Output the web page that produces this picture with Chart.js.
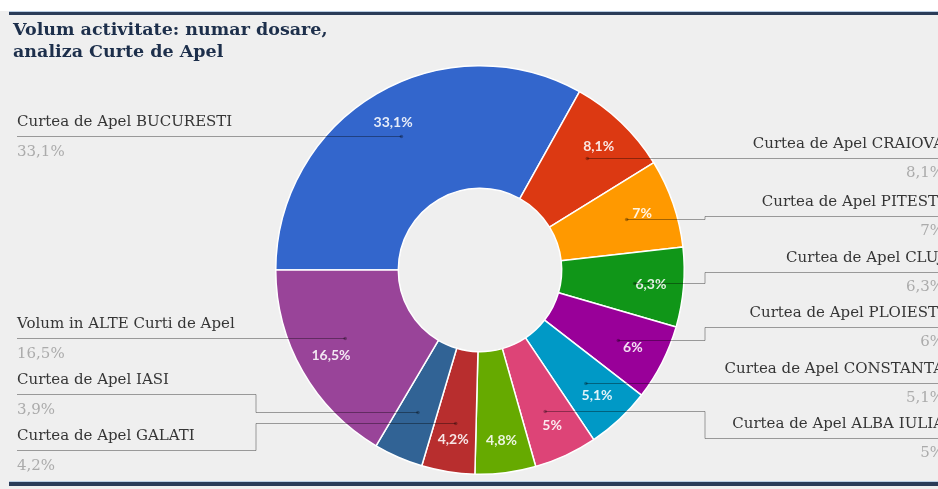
<!DOCTYPE html>
<html>
<head>
<meta charset="utf-8">
<script src="https://cdn.jsdelivr.net/npm/chart.js@4"></script>
<style>
  html, body { margin: 0; padding: 0; background: #efefef; }
  .wrap { width: 938px; height: 489px; position: relative; }
</style>
</head>
<body>
<div class="wrap"><canvas id="curti-chart"></canvas></div>
<script>
// date din grafic
const titleLines = ['Volum activitate: numar dosare,', 'analiza Curte de Apel'];
const curti = [
    'Curtea de Apel BUCURESTI',
    'Curtea de Apel CRAIOVA',
    'Curtea de Apel PITESTI',
    'Curtea de Apel CLUJ',
    'Curtea de Apel PLOIESTI',
    'Curtea de Apel CONSTANTA',
    'Curtea de Apel ALBA IULIA',
    null, // eticheta nu se vede in imagine
    'Curtea de Apel GALATI',
    'Curtea de Apel IASI',
    'Volum in ALTE Curti de Apel'
];
const procente = [33.1, 8.1, 7, 6.3, 6, 5.1, 5, 4.8, 4.2, 3.9, 16.5];
const culori = ['#3366cc', '#dc3912', '#ff9900', '#109618', '#990099', '#0099c6',
                '#dd4477', '#66aa00', '#b82e2e', '#316395', '#994499'];

const fmt = v => String(v).replace('.', ',') + '%';

// fundal, linii sus/jos, titlu
const fundal = {
    id: 'fundal',
    beforeDraw(chart) {
        const c = chart.ctx, w = chart.width, h = chart.height;
        c.save();
        c.fillStyle = '#efefef';
        c.fillRect(0, 0, w, h);
        c.fillStyle = '#ffffff';
        c.fillRect(0, 0, w, 11);
        c.fillStyle = '#b9cde3';
        c.fillRect(9, 11, w, 1);
        c.fillRect(9, 481, w, 1);
        c.fillStyle = '#2a3c58';
        c.fillRect(9, 12, w, 3);
        c.fillRect(9, 482, w, 4);
        c.fillStyle = '#1d2f4b';
        c.font = 'bold 17.5px "DejaVu Serif"';
        c.textBaseline = 'alphabetic';
        c.fillText(titleLines[0], 13, 35);
        c.fillText(titleLines[1], 13, 57);
        c.restore();
    }
};

// pune etichetele pe o parte fara suprapuneri
function aseaza(items, gap) {
    items.sort((a, b) => a.dy - b.dy);
    let grupuri = items.map(it => ({ list: [it] }));
    const pozitii = g => {
        const m = g.list.reduce((s, it) => s + it.dy, 0) / g.list.length;
        g.list.forEach((it, i) => { it.ly = m + (i - (g.list.length - 1) / 2) * gap; });
    };
    let schimbat = true;
    while (schimbat) {
        schimbat = false;
        grupuri.forEach(pozitii);
        for (let i = 0; i < grupuri.length - 1; i++) {
            const a = grupuri[i], b = grupuri[i + 1];
            if (a.list[a.list.length - 1].ly + gap > b.list[0].ly) {
                a.list = a.list.concat(b.list);
                grupuri.splice(i + 1, 1);
                schimbat = true;
                break;
            }
        }
    }
    grupuri.forEach(pozitii);
}

const etichete = {
    id: 'etichete',
    afterDatasetsDraw(chart) {
        const c = chart.ctx;
        const arcs = chart.getDatasetMeta(0).data;
        const stanga = [], dreapta = [];

        c.save();
        arcs.forEach((arc, i) => {
            const p = arc.getProps(['x', 'y', 'startAngle', 'endAngle', 'outerRadius', 'innerRadius']);
            const a = (p.startAngle + p.endAngle) / 2;
            // procent in felie (feliile prea mici raman fara text)
            if (procente[i] >= 4) {
                const rt = p.outerRadius * 0.84;
                c.font = 'bold 14px Lato';
                c.fillStyle = 'rgba(255,255,255,0.88)';
                c.textAlign = 'center';
                c.textBaseline = 'middle';
                c.fillText(fmt(procente[i]), p.x + Math.cos(a) * rt, p.y + Math.sin(a) * rt);
            }

            if (!curti[i]) return;
            const rd = p.outerRadius * 0.76;
            const it = { i, dx: p.x + Math.cos(a) * rd, dy: p.y + Math.sin(a) * rd };
            (Math.cos(a) >= 0 ? dreapta : stanga).push(it);
        });

        aseaza(stanga, 56);
        aseaza(dreapta, 55.5);

        c.lineWidth = 1;
        c.strokeStyle = 'rgba(0,0,0,0.36)';
        const linie = (pts) => {
            c.beginPath();
            pts.forEach((pt, k) => k ? c.lineTo(pt[0], pt[1] + 0.5) : c.moveTo(pt[0], pt[1] + 0.5));
            c.stroke();
        };
        const punct = (x, y) => {
            c.fillStyle = 'rgba(0,0,0,0.3)';
            c.beginPath();
            c.arc(x, y + 0.5, 1.8, 0, Math.PI * 2);
            c.fill();
        };

        stanga.forEach(it => {
            const ly = Math.round(it.ly), dy = Math.round(it.dy);
            if (Math.abs(ly - dy) < 14) {
                linie([[it.dx, ly], [17, ly]]);
                punct(it.dx, ly);
            } else {
                linie([[it.dx, dy], [256, dy], [256, ly], [17, ly]]);
                punct(it.dx, dy);
            }
            c.textAlign = 'left';
            c.textBaseline = 'middle';
            c.font = '15px "DejaVu Serif"';
            c.fillStyle = '#353535';
            c.fillText(curti[it.i], 17, ly - 14);
            c.fillStyle = '#ababab';
            c.fillText(fmt(procente[it.i]), 17, ly + 16);
        });

        dreapta.forEach(it => {
            const ly = Math.round(it.ly), dy = Math.round(it.dy);
            linie([[it.dx, dy], [705, dy], [705, ly], [chart.width, ly]]);
            punct(it.dx, dy);
            c.textAlign = 'right';
            c.textBaseline = 'middle';
            c.font = '15px "DejaVu Serif"';
            c.fillStyle = '#353535';
            c.fillText(curti[it.i], 944, ly - 14);
            c.fillStyle = '#ababab';
            c.fillText(fmt(procente[it.i]), 944, ly + 15);
        });
        c.restore();
    }
};

const ctx = document.getElementById('curti-chart').getContext('2d');
const curtiChart = new Chart(ctx, {
    type: 'doughnut',
    data: {
        labels: curti.map(n => n || ''),
        datasets: [{
            data: procente,
            backgroundColor: culori,
            borderColor: '#ffffff',
            borderWidth: 1.5
        }]
    },
    options: {
        responsive: true,
        maintainAspectRatio: false,
        animation: false,
        rotation: -90,
        cutout: '40%',
        layout: {
            padding: { top: 65, bottom: 14, left: 275, right: 253 }
        },
        plugins: {
            legend: { display: false },
            tooltip: { enabled: false }
        }
    },
    plugins: [fundal, etichete]
});
</script>
</body>
</html>
